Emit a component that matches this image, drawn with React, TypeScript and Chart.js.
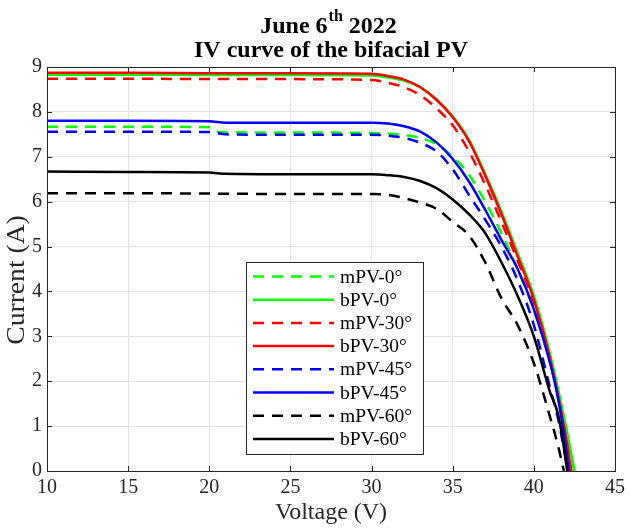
import React, { useEffect, useRef } from 'react';
import { Chart, registerables } from 'chart.js';

Chart.register(...registerables);

const FONT = '"Liberation Serif", "Times New Roman", serif';

// ---- Data ----
const seriesNames = ['mPV-0°', 'bPV-0°', 'mPV-30°', 'bPV-30°', 'mPV-45°', 'bPV-45°', 'mPV-60°', 'bPV-60°'];
const seriesColors = ['#00ff00', '#00ff00', '#ff0000', '#ff0000', '#0000ff', '#0000ff', '#000000', '#000000'];
const seriesDashed = [true, false, true, false, true, false, true, false];

const vMPV0 = [10, 15, 20, 20.6, 25, 30, 31, 32, 33, 34, 35, 36, 37, 38, 39, 40, 41, 41.5, 42, 42.5];
const iMPV0 = [7.67, 7.67, 7.66, 7.55, 7.54, 7.53, 7.52, 7.49, 7.42, 7.28, 7.0, 6.6, 6.0, 5.3, 4.5, 3.6, 2.45, 1.7, 0.9, 0];

const vBPV0 = [10, 15, 20, 25, 30, 31, 32, 33, 34, 35, 36, 37, 38, 39, 40, 41, 42, 42.5];
const iBPV0 = [8.83, 8.83, 8.82, 8.82, 8.81, 8.77, 8.7, 8.55, 8.28, 7.9, 7.38, 6.62, 5.78, 4.85, 3.9, 2.6, 0.95, 0];

const vMPV30 = [10, 15, 20, 25, 30, 31, 32, 33, 34, 35, 36, 37, 38, 39, 40, 41, 42, 42.3];
const iMPV30 = [8.74, 8.74, 8.73, 8.73, 8.71, 8.65, 8.55, 8.37, 8.08, 7.7, 7.12, 6.38, 5.55, 4.68, 3.75, 2.45, 0.7, 0];

const vBPV30 = [10, 15, 20, 25, 30, 31, 32, 33, 34, 35, 36, 37, 38, 39, 40, 41, 42, 42.3];
const iBPV30 = [8.87, 8.87, 8.86, 8.86, 8.85, 8.8, 8.72, 8.55, 8.27, 7.88, 7.35, 6.58, 5.72, 4.78, 3.82, 2.5, 0.7, 0];

const vMPV45 = [10, 15, 20, 21, 25, 30, 31, 32, 33, 34, 35, 36, 37, 38, 39, 40, 41, 41.5, 42, 42.1];
const iMPV45 = [7.56, 7.56, 7.55, 7.5, 7.49, 7.49, 7.47, 7.42, 7.31, 7.12, 6.72, 6.15, 5.6, 5.0, 4.25, 3.25, 1.85, 1.15, 0.2, 0];

const vBPV45 = [10, 15, 20, 21, 25, 30, 31, 32, 33, 34, 35, 36, 37, 38, 39, 40, 41, 41.5, 42, 42.15];
const iBPV45 = [7.8, 7.8, 7.79, 7.76, 7.76, 7.76, 7.74, 7.68, 7.56, 7.32, 6.95, 6.45, 5.82, 5.15, 4.5, 3.6, 2.4, 1.6, 0.45, 0];

const vMPV60 = [10, 15, 20, 25, 30, 31, 32, 33, 34, 35, 36, 37, 38, 39, 40, 41, 41.5, 41.85];
const iMPV60 = [6.19, 6.19, 6.18, 6.17, 6.17, 6.15, 6.08, 5.98, 5.84, 5.55, 5.25, 4.65, 3.85, 3.25, 2.4, 1.2, 0.55, 0];

const vBPV60 = [10, 15, 20, 21, 25, 30, 31, 32, 33, 34, 35, 36, 37, 38, 39, 40, 41, 41.5, 42, 42.05];
const iBPV60 = [6.67, 6.66, 6.65, 6.62, 6.61, 6.61, 6.59, 6.55, 6.46, 6.3, 6.05, 5.72, 5.3, 4.65, 3.9, 3.0, 1.75, 1.25, 0.15, 0];

const voltages = [vMPV0, vBPV0, vMPV30, vBPV30, vMPV45, vBPV45, vMPV60, vBPV60];
const currents = [iMPV0, iBPV0, iMPV30, iBPV30, iMPV45, iBPV45, iMPV60, iBPV60];

const xTicks = [10, 15, 20, 25, 30, 35, 40, 45];
const yTicks = [0, 1, 2, 3, 4, 5, 6, 7, 8, 9];

const titleLine1 = ['June 6', 'th', ' 2022'];
const titleLine2 = 'IV curve of the bifacial PV';
const xLabel = 'Voltage (V)';
const yLabel = 'Current (A)';

const DASH = [11, 8];
const AXIS_COLOR = '#262626';

const titlePlugin = {
  id: 'matlabTitle',
  afterDraw(chart: any) {
    const { ctx, chartArea } = chart;
    const cx = (chartArea.left + chartArea.right) / 2;
    ctx.save();
    ctx.fillStyle = '#000';
    ctx.textBaseline = 'alphabetic';
    ctx.textAlign = 'left';
    const big = `bold 24px ${FONT}`;
    const small = `bold 16px ${FONT}`;
    ctx.font = big;
    const w1 = ctx.measureText(titleLine1[0]).width;
    const w3 = ctx.measureText(titleLine1[2]).width;
    ctx.font = small;
    const w2 = ctx.measureText(titleLine1[1]).width;
    const x0 = cx - 3 - (w1 + w2 + w3) / 2;
    ctx.font = big;
    ctx.fillText(titleLine1[0], x0, 33);
    ctx.font = small;
    ctx.fillText(titleLine1[1], x0 + w1 + 1, 21);
    ctx.font = big;
    ctx.fillText(titleLine1[2], x0 + w1 + w2 + 1, 33);
    ctx.textAlign = 'center';
    ctx.fillText(titleLine2, cx, 57);

    // y-axis label (slightly elongated like the reference rendering)
    ctx.save();
    ctx.translate(18, (chartArea.top + chartArea.bottom) / 2 + 11);
    ctx.rotate(-Math.PI / 2);
    ctx.scale(1.2, 1.05);
    ctx.font = `23px ${FONT}`;
    ctx.fillStyle = AXIS_COLOR;
    ctx.textAlign = 'center';
    ctx.textBaseline = 'middle';
    ctx.fillText(yLabel, 0, 0);
    ctx.restore();
    ctx.restore();
  },
};

const boxPlugin = {
  id: 'matlabBox',
  afterDatasetsDraw(chart: any) {
    const { ctx, chartArea, scales } = chart;
    const { left, right, top, bottom } = chartArea;
    ctx.save();
    ctx.strokeStyle = AXIS_COLOR;
    ctx.lineWidth = 1;
    ctx.setLineDash([]);
    ctx.beginPath();
    const tl = 5;
    xTicks.forEach((v) => {
      const px = Math.round(scales.x.getPixelForValue(v)) + 0.5;
      ctx.moveTo(px, bottom);
      ctx.lineTo(px, bottom - tl);
      ctx.moveTo(px, top);
      ctx.lineTo(px, top + tl);
    });
    yTicks.forEach((v) => {
      const py = Math.round(scales.y.getPixelForValue(v)) + 0.5;
      ctx.moveTo(left, py);
      ctx.lineTo(left + tl, py);
      ctx.moveTo(right, py);
      ctx.lineTo(right - tl, py);
    });
    ctx.stroke();
    ctx.strokeRect(Math.round(left) + 0.5, Math.round(top) + 0.5, Math.round(right - left), Math.round(bottom - top));
    ctx.restore();
  },
};

const legendPlugin = {
  id: 'insideLegend',
  afterDraw(chart: any) {
    const { ctx, chartArea } = chart;
    const bx = chartArea.left + 199;
    const by = chartArea.top + 195;
    const bw = 177;
    const bh = 192;
    ctx.save();
    ctx.fillStyle = '#ffffff';
    ctx.fillRect(bx, by, bw, bh);
    ctx.strokeStyle = '#262626';
    ctx.lineWidth = 1;
    ctx.strokeRect(Math.round(bx) + 0.5, Math.round(by) + 0.5, bw, bh);
    ctx.font = `19.5px ${FONT}`;
    ctx.textBaseline = 'middle';
    ctx.textAlign = 'left';
    chart.data.datasets.forEach((ds: any, i: number) => {
      const ry = by + 14.5 + i * 23.2;
      ctx.strokeStyle = ds.borderColor;
      ctx.lineWidth = 2.5;
      ctx.setLineDash(ds.borderDash || []);
      ctx.beginPath();
      ctx.moveTo(bx + 7, ry);
      ctx.lineTo(bx + 88, ry);
      ctx.stroke();
      ctx.setLineDash([]);
      ctx.fillStyle = '#000';
      ctx.fillText(ds.label, bx + 94, ry + 1);
    });
    ctx.restore();
  },
};

export default function App() {
  const ref = useRef<HTMLCanvasElement | null>(null);
  useEffect(() => {
    document.body.style.margin = '0';
    if (!ref.current) return;
    const datasets = seriesNames.map((name, i) => ({
      label: name,
      data: voltages[i].map((v, k) => ({ x: v, y: currents[i][k] })),
      borderColor: seriesColors[i],
      backgroundColor: seriesColors[i],
      borderWidth: 2.5,
      borderDash: seriesDashed[i] ? DASH : [],
      pointRadius: 0,
      cubicInterpolationMode: 'monotone' as const,
      fill: false,
      order: seriesNames.length - i,
    }));
    const chart = new Chart(ref.current, {
      type: 'line',
      data: { datasets },
      options: {
        animation: false,
        responsive: false,
        maintainAspectRatio: false,
        layout: { padding: { top: 67, right: 10, left: 0, bottom: 0 } },
        plugins: {
          legend: { display: false },
          tooltip: { enabled: false },
          title: { display: false },
        },
        scales: {
          x: {
            type: 'linear',
            min: 10,
            max: 45,
            afterBuildTicks: (scale: any) => {
              scale.ticks = xTicks.map((v) => ({ value: v }));
            },
            afterFit: (scale: any) => {
              scale.height = 58;
            },
            grid: { color: '#e2e2e2', lineWidth: 1, drawTicks: false },
            border: { display: false },
            ticks: { color: AXIS_COLOR, font: { family: FONT, size: 20 }, padding: 5, maxRotation: 0 },
            title: { display: true, text: xLabel, color: AXIS_COLOR, font: { family: FONT, size: 24 }, padding: { top: 0, bottom: 2 } },
          },
          y: {
            type: 'linear',
            min: 0,
            max: 9,
            afterBuildTicks: (scale: any) => {
              scale.ticks = yTicks.map((v) => ({ value: v }));
            },
            afterFit: (scale: any) => {
              scale.width = 47;
            },
            grid: { color: '#e2e2e2', lineWidth: 1, drawTicks: false },
            border: { display: false },
            ticks: { color: AXIS_COLOR, font: { family: FONT, size: 20 }, padding: 5 },
            title: { display: false },
          },
        },
      },
      plugins: [boxPlugin, legendPlugin, titlePlugin],
    });
    return () => chart.destroy();
  }, []);
  return (
    <div style={{ width: 630, height: 529, background: '#fff' }}>
      <canvas ref={ref} width={630} height={529} style={{ display: 'block', width: 630, height: 529 }} />
    </div>
  );
}
